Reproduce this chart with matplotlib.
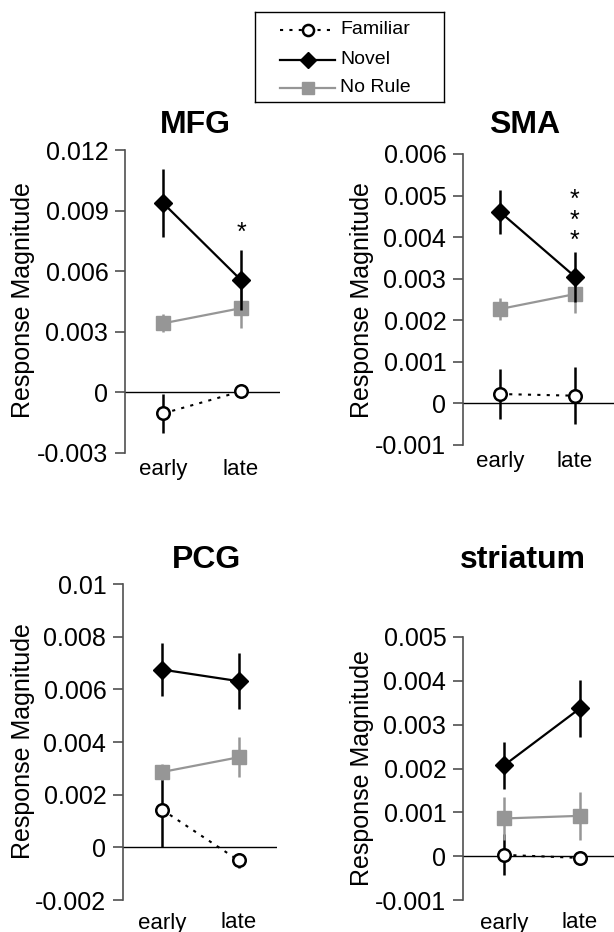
import matplotlib
matplotlib.use("Agg")
import matplotlib.pyplot as plt
from matplotlib.lines import Line2D

plt.rcParams["font.family"] = ["Liberation Sans", "DejaVu Sans"]

W, H = 614, 932
phases = ["early", "late"]

regions = ["MFG", "SMA", "PCG", "striatum"]
yticks = {
    "MFG": [-0.003, 0, 0.003, 0.006, 0.009, 0.012],
    "SMA": [-0.001, 0, 0.001, 0.002, 0.003, 0.004, 0.005, 0.006],
    "PCG": [-0.002, 0, 0.002, 0.004, 0.006, 0.008, 0.01],
    "striatum": [-0.001, 0, 0.001, 0.002, 0.003, 0.004, 0.005],
}
ytick_labels = {
    "MFG": ["-0.003", "0", "0.003", "0.006", "0.009", "0.012"],
    "SMA": ["-0.001", "0", "0.001", "0.002", "0.003", "0.004", "0.005", "0.006"],
    "PCG": ["-0.002", "0", "0.002", "0.004", "0.006", "0.008", "0.01"],
    "striatum": ["-0.001", "0", "0.001", "0.002", "0.003", "0.004", "0.005"],
}

novel = {"MFG": [0.00937, 0.00556], "SMA": [0.00461, 0.00305],
         "PCG": [0.00675, 0.00631], "striatum": [0.00207, 0.00337]}
novel_err = {"MFG": [0.0017, 0.0015], "SMA": [0.00053, 0.0006],
             "PCG": [0.001, 0.00107], "striatum": [0.00053, 0.00064]}
norule = {"MFG": [0.00342, 0.00417], "SMA": [0.00227, 0.00263],
          "PCG": [0.00286, 0.00342], "striatum": [0.00086, 0.00092]}
norule_err = {"MFG": [0.00045, 0.001], "SMA": [0.00026, 0.00045],
              "PCG": [0.0003, 0.00076], "striatum": [0.0005, 0.00055]}
familiar = {"MFG": [-0.00104, 0.00005], "SMA": [0.000226, 0.000186],
            "PCG": [0.00143, -0.0005], "striatum": [0.00003, -0.00004]}
familiar_err = {"MFG": [0.00095, 0.0001], "SMA": [0.0006, 0.00068],
                "PCG": [0.0014, 0.0003], "striatum": [0.00047, 0.00007]}

# significance marks at the late phase: (y position, text)
stars = {"MFG": (0.0079, "*"), "SMA": (0.0044, "*\n*\n*")}

GRAY = "#969696"
SPINE = "#505050"

# pixel layout: left, right, top, bottom, xlim, title xy, ylabel xy, xtick pad
layout = {
    "MFG": (125, 280, 150, 453, (-0.49, 1.5), (195, 125), (23, 300), 4),
    "SMA": (463, 614, 154, 445, (-0.49, 1.52), (525, 125), (362, 300), 4),
    "PCG": (123, 277, 584, 900, (-0.51, 1.5), (207, 560), (23, 741), 9),
    "striatum": (463, 614, 637, 900, (-0.54, 1.45), (523, 560), (362, 768), 9),
}

fig = plt.figure(figsize=(W / 100, H / 100), dpi=100)

for r in regions:
    l, rt, t, b, xl, tpos, ypos, xpad = layout[r]
    ax = fig.add_axes([l / W, 1 - b / H, (rt - l) / W, (b - t) / H])
    ax.set_xlim(*xl)
    ax.set_ylim(yticks[r][0], yticks[r][-1])
    ax.axhline(0, color="black", lw=1.0, zorder=1)
    x = [0, 1]
    ax.errorbar(x, familiar[r], yerr=familiar_err[r], color="black", ls=(0, (1.5, 3)),
                lw=1.5, elinewidth=1.8, marker="o", ms=9, mfc="white", mec="black",
                mew=1.8, capsize=0, zorder=2)
    ax.errorbar(x, norule[r], yerr=norule_err[r], color=GRAY, lw=1.6, elinewidth=1.8,
                marker="s", ms=9.5, mfc=GRAY, mec=GRAY, capsize=0, zorder=3)
    ax.errorbar(x, novel[r], yerr=novel_err[r], color="black", lw=1.6, elinewidth=1.8,
                marker="D", ms=9, mfc="black", mec="black", capsize=0, zorder=4)
    if r in stars:
        sy, st = stars[r]
        ax.text(1, sy, st, ha="center", va="center", fontsize=18, linespacing=0.8)
    for side in ["top", "right", "bottom"]:
        ax.spines[side].set_visible(False)
    ax.spines["left"].set_color(SPINE)
    ax.spines["left"].set_linewidth(1.2)
    ax.set_yticks(yticks[r])
    ax.set_yticklabels(ytick_labels[r])
    ax.tick_params(axis="y", direction="out", length=7, width=1.2, color=SPINE,
                   labelsize=18, pad=5)
    ax.set_xticks(x)
    ax.set_xticklabels(phases)
    ax.tick_params(axis="x", length=0, labelsize=16, pad=xpad)
    ax.patch.set_alpha(0)
    fig.text(tpos[0] / W, 1 - tpos[1] / H, r, ha="center", va="center",
             fontsize=23, fontweight="bold")
    fig.text(ypos[0] / W, 1 - ypos[1] / H, "Response Magnitude", rotation=90,
             ha="center", va="center", fontsize=18)

# legend box drawn in its own axes (pixel coords)
lx0, lx1, ly0, ly1 = 255, 444, 12, 102
lax = fig.add_axes([lx0 / W, 1 - ly1 / H, (lx1 - lx0) / W, (ly1 - ly0) / H])
lax.set_xlim(lx0, lx1)
lax.set_ylim(ly1, ly0)
lax.set_xticks([])
lax.set_yticks([])
for sp in lax.spines.values():
    sp.set_color("black")
    sp.set_linewidth(1.0)
marker_keys = ("marker", "ms", "mfc", "mec", "mew")
leg_rows = [
    ("Familiar", dict(color="black", ls=(0, (1.5, 3)), lw=1.5, marker="o", ms=8,
                      mfc="white", mec="black", mew=1.8), 30),
    ("Novel", dict(color="black", lw=1.6, marker="D", ms=8, mfc="black", mec="black"), 60),
    ("No Rule", dict(color=GRAY, lw=1.6, marker="s", ms=9, mfc=GRAY, mec=GRAY), 88),
]
for label, style, yy in leg_rows:
    lax.add_line(Line2D([280, 335], [yy, yy],
                        **{k: v for k, v in style.items() if k not in marker_keys}))
    lax.plot([307.5], [yy], ls="none",
             **{k: v for k, v in style.items() if k in marker_keys})
    lax.text(340, yy, label, ha="left", va="center", fontsize=14)

fig.savefig("out.png", dpi=100)
